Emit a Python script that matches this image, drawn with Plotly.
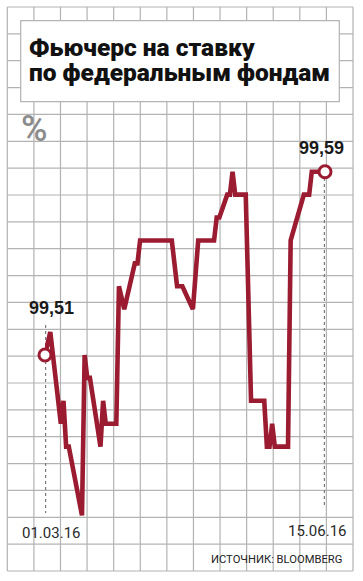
import plotly.graph_objects as go

# ---------------- data ----------------
dates = ["2016-03-01", "2016-03-03", "2016-03-07", "2016-03-08", "2016-03-09", "2016-03-10",
         "2016-03-15", "2016-03-16", "2016-03-17", "2016-03-18", "2016-03-22", "2016-03-23",
         "2016-03-24", "2016-03-28", "2016-03-29", "2016-03-31", "2016-04-04", "2016-04-05",
         "2016-04-06", "2016-04-18", "2016-04-20", "2016-04-22", "2016-04-26", "2016-04-28",
         "2016-05-04", "2016-05-05", "2016-05-06", "2016-05-09", "2016-05-10", "2016-05-11",
         "2016-05-12", "2016-05-16", "2016-05-18", "2016-05-23", "2016-05-24", "2016-05-25",
         "2016-05-26", "2016-05-27", "2016-06-01", "2016-06-02", "2016-06-07", "2016-06-09",
         "2016-06-10", "2016-06-15"]
values = [99.51, 99.52, 99.48, 99.49, 99.47, 99.47,
          99.44, 99.51, 99.50, 99.50, 99.47, 99.49,
          99.48, 99.48, 99.54, 99.53, 99.55, 99.55,
          99.56, 99.56, 99.54, 99.54, 99.53, 99.56,
          99.56, 99.57, 99.57, 99.58, 99.58, 99.59,
          99.58, 99.58, 99.49, 99.49, 99.47, 99.47,
          99.48, 99.47, 99.47, 99.56, 99.58, 99.58,
          99.59, 99.59]
date_labels = ["01.03.16", "15.06.16"]
title_lines = ["Фьючерс на ставку", "по федеральным фондам"]
unit_label = "%"
source_label = "ИСТОЧНИК: BLOOMBERG"

# ---------------- layout constants ----------------
W, H = 363, 581
L, R, T, B = 45, 38, 150, 41
PW, PH = W - L - R, H - T - B
PX_PER_UNIT = 2291.0          # pixels per 1.0 of the value axis
Y_REF_PX = 355.0              # pixel row of first value
y_top = values[0] + (Y_REF_PX - T) / PX_PER_UNIT
y_bot = values[0] - (H - B - Y_REF_PX) / PX_PER_UNIT

RED = "#9b1b30"
GRID = "#b3b3b3"


def px(x):
    return (x - L) / PW


def py(y):
    return (H - B - y) / PH


fig = go.Figure()

fig.add_trace(go.Scatter(
    x=dates, y=values, mode="lines",
    line=dict(color=RED, width=4.6),
    hoverinfo="skip", showlegend=False))

fig.add_trace(go.Scatter(
    x=[dates[0], dates[-1]], y=[values[0], values[-1]], mode="markers",
    marker=dict(symbol="circle", size=12, color="white",
                line=dict(color=RED, width=3)),
    cliponaxis=False, hoverinfo="skip", showlegend=False))

shapes = []
# grid
x0g, x1g, y0g, y1g = 7.3, 353.0, 7.0, 571.0
ncol, nrow = 13, 21
for k in range(ncol + 1):
    xx = x0g + k * (x1g - x0g) / ncol
    shapes.append(dict(type="line", xref="paper", yref="paper",
                       x0=px(xx), x1=px(xx), y0=py(y0g), y1=py(y1g),
                       line=dict(color=GRID, width=1.2), layer="below"))
for k in range(nrow + 1):
    yy = y0g + k * (y1g - y0g) / nrow
    shapes.append(dict(type="line", xref="paper", yref="paper",
                       x0=px(x0g), x1=px(x1g), y0=py(yy), y1=py(yy),
                       line=dict(color=GRID, width=1.2), layer="below"))
# title box
shapes.append(dict(type="rect", xref="paper", yref="paper",
                   x0=px(20.7), x1=px(339.3), y0=py(20.7), y1=py(101.7),
                   fillcolor="white", line=dict(color=GRID, width=1.2), layer="below"))
# dotted leader lines
shapes.append(dict(type="line", xref="x", yref="paper",
                   x0=dates[0], x1=dates[0], y0=py(325), y1=py(513),
                   line=dict(color="#7a7a7a", width=2.4, dash="dot"), layer="below"))
shapes.append(dict(type="line", xref="x", yref="paper",
                   x0=dates[-1], x1=dates[-1], y0=py(172), y1=py(508),
                   line=dict(color="#7a7a7a", width=2.4, dash="dot"), layer="below"))

ann = []
# title
ann.append(dict(text=title_lines[0], xref="paper", yref="paper",
                x=px(27), y=py(47), xanchor="left", yanchor="middle", showarrow=False,
                font=dict(family="Roboto", size=24.5, color="#111111", weight=900)))
ann.append(dict(text=title_lines[1], xref="paper", yref="paper",
                x=px(27), y=py(72), xanchor="left", yanchor="middle", showarrow=False,
                font=dict(family="Roboto", size=24.5, color="#111111", weight=900)))
# unit
ann.append(dict(text=unit_label, xref="paper", yref="paper",
                x=px(34), y=py(129), xanchor="center", yanchor="middle", showarrow=False,
                font=dict(family="Roboto", size=36, color="#8c8c8c", weight=500)))
# value labels
for d, v, dx, dy in [(dates[0], values[0], 6, 47), (dates[-1], values[-1], -4, 24)]:
    ann.append(dict(text=f"{v:.2f}".replace(".", ","), x=d, y=v, xref="x", yref="y",
                    xanchor="center", yanchor="middle", xshift=dx, yshift=dy, showarrow=False,
                    font=dict(family="Liberation Sans", size=18, color="#1a1a1a", weight="bold")))
# date labels
ann.append(dict(text=date_labels[0], x=dates[0], xref="x", yref="paper", y=py(533),
                xanchor="center", yanchor="middle", xshift=6, showarrow=False,
                font=dict(family="Roboto", size=15, color="#2a2a2a")))
ann.append(dict(text=date_labels[1], x=dates[-1], xref="x", yref="paper", y=py(531),
                xanchor="center", yanchor="middle", xshift=-8, showarrow=False,
                font=dict(family="Roboto", size=15, color="#2a2a2a")))
# source
ann.append(dict(text=source_label, xref="paper", yref="paper", x=px(344), y=py(559),
                xanchor="right", yanchor="middle", showarrow=False,
                font=dict(family="Liberation Sans Narrow, Roboto", size=11.2, color="#222222")))

fig.update_layout(
    width=W, height=H,
    margin=dict(l=L, r=R, t=T, b=B, pad=0),
    paper_bgcolor="white", plot_bgcolor="rgba(0,0,0,0)",
    shapes=shapes, annotations=ann,
    xaxis=dict(type="date", range=[dates[0], dates[-1]], visible=False,
               rangebreaks=[dict(bounds=["sat", "mon"])], fixedrange=True),
    yaxis=dict(range=[y_bot, y_top], visible=False, fixedrange=True),
    showlegend=False,
)

fig.write_html("out.html", config={"displayModeBar": False},
               post_script="document.body.style.margin='0';document.body.style.overflow='hidden';")
